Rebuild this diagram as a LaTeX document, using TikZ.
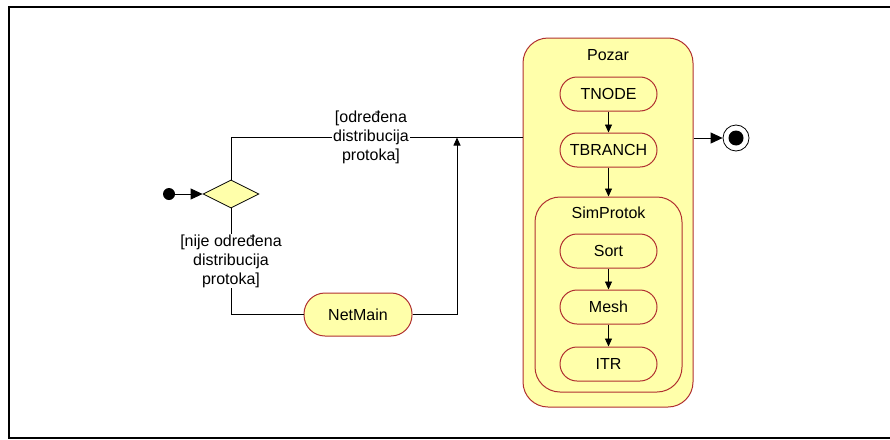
\documentclass[tikz,border=0pt]{standalone}
\usepackage{fontspec}
\setmainfont{Liberation Sans}
\usetikzlibrary{arrows.meta,shapes.geometric}
\definecolor{actfill}{RGB}{255,255,170}
\definecolor{actdraw}{RGB}{176,48,48}
\begin{document}
\begin{tikzpicture}[x=1pt,y=-1pt,
  font=\fontsize{16}{19}\selectfont,
  action/.style={draw=actdraw,fill=actfill,line width=1pt,rounded corners=17pt,minimum width=97pt,minimum height=34pt,inner sep=0pt},
  region/.style={draw=actdraw,fill=actfill,line width=1pt,rounded corners=25pt,inner sep=0pt},
  flow/.style={line width=0.9pt,-{Triangle[length=8pt,width=7pt]}},
  bigflow/.style={line width=0.9pt,-{Triangle[length=12pt,width=11pt]}},
  plain/.style={line width=0.9pt},
  guard/.style={fill=white,align=center,inner sep=1pt},
]
\useasboundingbox (0,0) rectangle (890,439);
\draw[line width=2pt] (9,7) rectangle (900,438);

\node[region,minimum width=170pt,minimum height=369pt] (pozar) at (608,222.5) {};
\node (pozarlbl) at (608,55) {Pozar};
\node[action] (tnode) at (608.5,94) {TNODE};
\node[action] (tbranch) at (608.5,150) {TBRANCH};
\node[region,minimum width=147pt,minimum height=195pt] (simp) at (608.5,294.5) {};
\node (simlbl) at (608.5,213) {SimProtok};
\node[action] (sort) at (608.5,251) {Sort};
\node[action] (mesh) at (608.5,307) {Mesh};
\node[action] (itr) at (608.5,364) {ITR};
\node[action,minimum width=108pt,minimum height=43pt,rounded corners=21pt] (netmain) at (358,314.5) {NetMain};

\node[diamond,draw=black,fill=actfill,line width=0.8pt,minimum width=56pt,minimum height=28pt,inner sep=0pt] (dec) at (231,194) {};
\node[circle,fill=black,minimum size=12pt,inner sep=0pt] (start) at (169,194) {};
\node[circle,draw=black,fill=white,line width=0.8pt,minimum size=26pt,inner sep=0pt] (final) at (736,138) {};
\node[circle,fill=black,minimum size=15pt,inner sep=0pt] (finaldot) at (final) {};

\coordinate (merge) at (457,137.5);
\coordinate (pin) at (pozar.west |- merge);
\coordinate (pout) at (pozar.east |- final);

\draw[plain] (dec.north) |- (pin);
\draw[bigflow] (start) -- (dec.west);
\draw[plain] (dec.south) |- (netmain.west);
\draw[flow] (netmain.east) -| (merge);
\draw[bigflow] (pout) -- (final);
\draw[flow] (tnode) -- (tbranch);
\draw[flow] (tbranch) -- (simp.north);
\draw[flow] (sort) -- (mesh);
\draw[flow] (mesh) -- (itr);

\node[guard] (gyes) at (371,137) {[određena\\distribucija\\protoka]};
\node[guard] (gno) at (231,261) {[nije određena\\distribucija\\protoka]};
\end{tikzpicture}
\end{document}
